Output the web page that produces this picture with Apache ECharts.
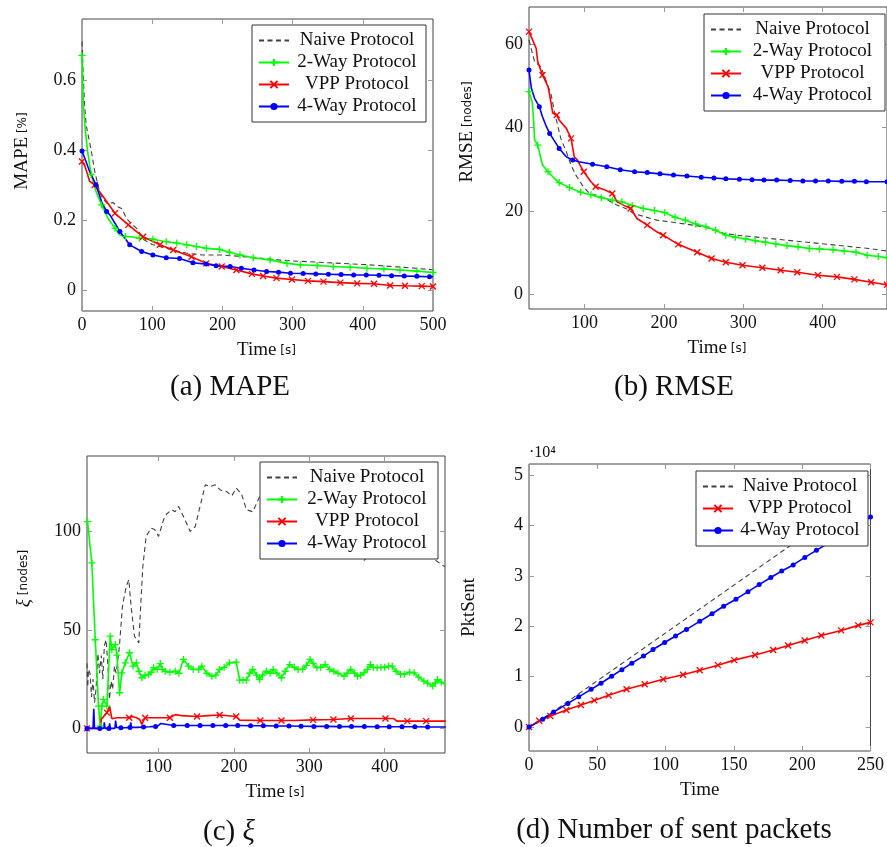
<!DOCTYPE html>
<html>
<head>
<meta charset="utf-8">
<script src="https://cdn.jsdelivr.net/npm/echarts@6/dist/echarts.min.js"></script>
<style>
  html, body { margin: 0; padding: 0; background: #fff; }
  #chart { width: 887px; height: 847px; }
</style>
</head>
<body>
<div id="chart"></div>
<script>
// ---------- data: (a) MAPE over time [t (s), MAPE] ----------
const A_naive = [[0,0.71],[1,0.66],[2,0.6],[4,0.52],[6,0.47],[9,0.44],[13,0.40],[18,0.34],[25,0.28],[30,0.26],[37,0.245],[44,0.25],[51,0.238],[57,0.232],[63,0.205],[70,0.19],[78,0.176],[87,0.145],[100,0.13],[120,0.119],[149,0.105],[171,0.1],[200,0.1],[250,0.092],[280,0.086],[300,0.083],[350,0.078],[400,0.073],[450,0.066],[500,0.058]];
const A_two = [[0,0.67],[1,0.6],[2,0.53],[4,0.47],[8,0.395],[13,0.33],[20,0.281],[28,0.243],[37,0.205],[47,0.176],[54,0.157],[62,0.153],[70,0.152],[82,0.148],[101,0.145],[120,0.138],[135,0.134],[149,0.129],[163,0.124],[177,0.119],[196,0.116],[210,0.108],[225,0.1],[244,0.092],[268,0.086],[292,0.076],[311,0.072],[335,0.07],[358,0.067],[382,0.065],[406,0.062],[430,0.06],[453,0.057],[477,0.054],[500,0.05]];
const A_vpp = [[0,0.367],[4,0.355],[11,0.31],[18,0.30],[30,0.267],[47,0.219],[66,0.186],[87,0.152],[111,0.129],[130,0.114],[156,0.095],[177,0.076],[199,0.067],[220,0.057],[242,0.046],[258,0.04],[277,0.034],[299,0.03],[322,0.026],[344,0.024],[368,0.021],[392,0.019],[416,0.018],[439,0.013],[460,0.012],[484,0.011],[500,0.01]];
const A_four = [[0,0.397],[4,0.376],[11,0.338],[20,0.30],[28,0.252],[35,0.224],[40,0.214],[54,0.167],[68,0.129],[85,0.11],[101,0.1],[120,0.092],[139,0.09],[158,0.078],[177,0.074],[191,0.069],[211,0.067],[227,0.062],[245,0.057],[263,0.053],[280,0.051],[297,0.048],[315,0.047],[333,0.046],[351,0.045],[369,0.044],[387,0.043],[405,0.043],[423,0.042],[441,0.041],[459,0.04],[477,0.039],[495,0.038],[500,0.038]];

// ---------- data: (b) RMSE over time [t (s), nodes] ----------
const B_naive = [[30,61],[31,60.6],[37,55.8],[45,54.6],[52,51],[58,47.8],[62,43.8],[66,40.6],[70,37.4],[77,34.2],[83,31],[89,28.6],[97,26.2],[106,24.2],[114,23.8],[124,23.2],[133,22.2],[141,21.4],[153,20.5],[162,19.4],[176,18.6],[191,17.8],[207,17.4],[226,16.9],[251,16.2],[276,14.6],[292,14.2],[334,13.4],[375,12.6],[417,11.8],[458,11.0],[481,10.4]];
const B_two = [[30,48.6],[34,46.2],[36,41.4],[37,37],[41,35.8],[43,34.2],[47,31],[54,29.4],[62,27.8],[68,26.8],[81,25.6],[95,24.5],[108,23.9],[121,23.2],[135,22.6],[147,22.2],[160,21.3],[174,20.6],[188,20.1],[201,19.6],[214,18.5],[227,17.8],[240,16.9],[253,16.2],[265,15.4],[278,14.2],[290,13.7],[303,13.3],[315,12.9],[328,12.5],[341,12.1],[355,11.7],[369,11.4],[383,11.0],[396,10.9],[413,10.7],[427,10.4],[442,10.1],[456,9.4],[470,9.1],[481,8.8]];
const B_vpp = [[30,63],[31,62.9],[39,59],[41,55.8],[47,52.6],[54,49.8],[56,47.8],[60,43.4],[65,43],[68,41.8],[77,39.8],[83,37.4],[87,33],[91,32.2],[99,29.4],[108,27],[114,25.8],[126,25],[135,24.2],[141,22.2],[149,21.4],[158,20.6],[166,18.2],[179,16.6],[191,15],[199,14.2],[218,12],[242,10.1],[260,8.6],[278,7.7],[299,7],[324,6.4],[347,5.8],[368,5.3],[394,4.6],[418,4.2],[440,3.6],[461,2.9],[481,2.3]];
const B_four = [[30,53.8],[33,49.4],[37,47],[43,45],[47,42.6],[52,40.2],[56,38.6],[62,36.8],[68,35],[77,33],[85,32.2],[93,31.8],[110,31.2],[128,30.6],[145,29.9],[163,29.4],[179,29.2],[195,28.9],[212,28.6],[229,28.4],[247,28.1],[263,27.9],[278,27.7],[295,27.6],[311,27.5],[326,27.4],[342,27.4],[359,27.3],[375,27.2],[391,27.2],[407,27.2],[424,27.1],[440,27.1],[455,27.0],[481,27.0]];

// ---------- data: (c) xi over time [t (s), nodes] ----------
const C_naive = [[5,33],[6,21],[7,30],[9,28],[11,16],[13,25],[15,13],[17,20],[19.5,38],[21.7,28],[24,37],[26,25],[28,42],[30.4,45],[32.7,32],[34.8,14.7],[37,24],[39,19.8],[41.5,31.6],[43.6,28],[46,35],[48,41.7],[52,62],[57,72],[60.5,75.5],[63.5,62],[68,46.8],[73.7,43.4],[76.7,65.4],[79,82],[83.5,97.5],[90,101.7],[94.7,101],[100,97.5],[106.6,106],[111,109],[117.6,111],[122,110],[126.5,112.7],[133,107.6],[142,100],[148.6,102.5],[155,112.7],[162,123.7],[168.6,122.8],[175,123.7],[182,121],[190,120.3],[197,118],[203,122],[210,119],[216.6,111],[225,110],[234,117.7],[250,121],[270,115],[290,118],[310,110],[330,104],[350,95],[372,85],[390,92],[410,100],[430,97],[450,92],[465,86],[480,82]];
const C_two = [[5.7,105],[11.4,84],[16,45],[20.3,11.3],[22.6,1.2],[24.8,11.3],[26.9,14.7],[31.4,11.3],[35.8,46.8],[38,40],[42.5,42.6],[44.7,37.2],[48.2,18.1],[51.3,28.2],[55.8,33.3],[61.5,38.4],[66,31.6],[70.4,33.3],[74,29],[77.8,25.7],[82,27],[86.7,27.4],[90,28.5],[93.4,30.8],[98,30],[102.2,32.9],[105,30],[108.8,29],[115,28.5],[122,29],[127,28],[133,35],[139.8,31.6],[146,30],[153,29.9],[157.4,31.6],[164,28],[170.7,26.5],[176,27],[181,29.9],[187,31],[194,33.3],[203,33.6],[207.6,24.5],[212,24.5],[216.4,24.5],[221,28],[225,29.9],[230,27],[234,24.8],[238,27],[243,29],[248,28],[252,29.9],[257,28],[263,25.7],[268,29],[274,32.4],[280,31],[285,29.9],[291,30],[296,32],[301,35],[305,33],[310,30.8],[315,31],[321,32.4],[327,30],[332.5,29],[338,28],[346,26.5],[350,28],[355,29.9],[360,28],[364,26.5],[368,27],[372.5,28.2],[377,30],[381,32.4],[385,31],[390,30.8],[395,31],[400,31],[405,31.5],[410,31.6],[415,29],[421,27.4],[426,27.5],[433,28.5],[439,28.2],[445,26],[452,24],[457,23],[463.5,21.5],[467,23],[470,24.8],[475,23.5],[481,22]];
const C_vpp = [[5,0],[22.6,0],[24,4.6],[31.4,8],[35,11.3],[38,4.9],[44.6,5.4],[61,5.4],[65,6],[70,5.5],[75,4.5],[77.8,2],[82,5.4],[100,5.4],[115,5.4],[122,7],[130,6.5],[151,6],[165,6.5],[181,6.8],[203,6],[207.6,4.2],[235,4],[263,4],[280,4],[305,4.3],[332,4.5],[355,5],[370,5],[401,5],[412,5],[416,3.7],[430,3.7],[455,3.7],[481,3.7]];
const C_four = [[5,0],[13,0],[14,10],[15,0],[22,0],[27,0],[28,3],[29,0],[34,0],[35,2.5],[36,0],[42,0],[43,4],[44,0.5],[50,0.3],[55,0.3],[62,0.5],[63,3],[64,0.5],[72,0.5],[80,0.7],[88,0.8],[96,1],[100,1.5],[103,2.5],[105,1.5],[120,1.5],[138,1.5],[155,1.5],[172,1.5],[189,1.5],[205,1.5],[222,1.3],[239,1.3],[256,1.2],[273,1.2],[289,1.1],[306,1],[323,1],[340,0.9],[356,0.9],[373,0.9],[390,0.8],[406,0.8],[423,0.8],[440,0.8],[457,0.7],[481,0.7]];

// ---------- data: (d) packets sent over time [t, packets] ----------
const D_naive = [[0,0],[10,1700],[20,3500],[30,5400],[40,7300],[250,47200]];
const D_vpp = [[0,0],[7.5,1250],[15.6,2200],[27.3,3400],[38,4400],[47.8,5300],[58.3,6300],[71.4,7500],[84.7,8500],[98.3,9500],[112.8,10400],[125,11300],[138.3,12300],[150.2,13300],[165.5,14300],[178.8,15300],[189.7,16200],[201.8,17200],[214,18200],[228.5,19200],[241,20200],[250,20800]];
const D_four = [[0,0],[10,1550],[18,3000],[28.5,4700],[36.4,6000],[45.5,7500],[52.7,8700],[60.5,10100],[68,11400],[75.3,12700],[83.8,14100],[90.8,15400],[99.3,16800],[107.3,18100],[115.3,19400],[125,21000],[134,22500],[142.5,24000],[151.5,25400],[160.3,26900],[168.5,28300],[177,29700],[185,31000],[193.4,32200],[201.9,33700],[210.4,35100],[218.9,36500],[227,37900],[235,39200],[243,40500],[250,41700]];

// ---------- tick values ----------
const A_xticks = [0, 100, 200, 300, 400, 500];
const A_yticks = [0, 0.2, 0.4, 0.6];
const B_xticks = [100, 200, 300, 400];
const B_yticks = [0, 20, 40, 60];
const C_xticks = [100, 200, 300, 400];
const C_yticks = [0, 50, 100];
const D_xticks = [0, 50, 100, 150, 200, 250];
const D_yticks = [0, 10000, 20000, 30000, 40000, 50000];

const NAIVE = 'Naive Protocol', TWO = '2-Way Protocol', VPP = 'VPP Protocol', FOUR = '4-Way Protocol';

const SERIF = '"Liberation Serif", "DejaVu Serif", serif';
const SANS = '"DejaVu Sans", sans-serif';
const INK = '#111';

const looks = {
  [NAIVE]: { color: '#404040', symbol: 'none', lineStyle: { width: 1.1, type: [5, 3.5] } },
  [TWO]: { color: '#00ff00', symbol: 'path://M5,0L5,10M0,5L10,5', symbolSize: 7 },
  [VPP]: { color: '#ff0000', symbol: 'path://M0,0L10,10M10,0L0,10', symbolSize: 6 },
  [FOUR]: { color: '#0000ff', symbol: 'circle', symbolSize: 5 }
};

// marks are drawn on a point only when it lies at least `gap` seconds after the previous mark
function markedIndices(data, gap) {
  const keep = new Set();
  let last = -Infinity;
  data.forEach((p, i) => {
    if (p[0] - last >= gap) { keep.add(i); last = p[0]; }
  });
  return keep;
}

function line(name, data, g, gap) {
  const lk = looks[name];
  const keep = markedIndices(data, gap || 0);
  const size = lk.symbolSize || 0;
  return {
    type: 'line', name, data,
    xAxisIndex: 2 * g, yAxisIndex: 2 * g,
    symbol: lk.symbol,
    symbolSize: (v, p) => (keep.has(p.dataIndex) ? size : 0),
    showSymbol: lk.symbol !== 'none',
    lineStyle: Object.assign({ color: lk.color, width: 1.6 }, lk.lineStyle || {}),
    itemStyle: { color: lk.color, borderColor: lk.color, borderWidth: lk.symbol === 'circle' ? 0 : 1.3 },
    emphasis: { disabled: true },
    animation: false
  };
}

const nameRich = {
  m: { fontFamily: SERIF, fontSize: 19, color: INK },
  i: { fontFamily: SERIF, fontStyle: 'italic', fontSize: 19, color: INK },
  u: { fontFamily: SANS, fontSize: 12, color: INK }
};

function axes(g, xr, yr, xticks, yticks, xname, yname, yfmt, xPad, yPad, yGap) {
  const tick = (vals) => ({ inside: true, length: 5, lineStyle: { color: '#999', width: 1 }, customValues: vals });
  const noLine = { show: false, onZero: false };
  const xs = [
    {
      type: 'value', gridIndex: g, position: 'bottom', min: xr[0], max: xr[1],
      axisLine: noLine, splitLine: { show: false }, axisTick: tick(xticks),
      axisLabel: { customValues: xticks, margin: 5, color: INK, fontFamily: SERIF, fontSize: 18, showMinLabel: true, showMaxLabel: true },
      name: xname, nameLocation: 'middle', nameGap: 30,
      nameTextStyle: { rich: nameRich, padding: [0, 0, 0, xPad] }
    },
    {
      type: 'value', gridIndex: g, position: 'top', min: xr[0], max: xr[1],
      axisLine: noLine, splitLine: { show: false }, axisTick: tick(xticks),
      axisLabel: { show: false }
    }
  ];
  const ys = [
    {
      type: 'value', gridIndex: g, position: 'left', min: yr[0], max: yr[1],
      axisLine: noLine, splitLine: { show: false }, axisTick: tick(yticks),
      axisLabel: { customValues: yticks, margin: 6, color: INK, fontFamily: SERIF, fontSize: 18, formatter: yfmt, showMinLabel: true, showMaxLabel: true },
      name: yname, nameLocation: 'middle', nameGap: yGap,
      nameTextStyle: { rich: nameRich, padding: [0, 0, 0, yPad] }
    },
    {
      type: 'value', gridIndex: g, position: 'right', min: yr[0], max: yr[1],
      axisLine: noLine, splitLine: { show: false }, axisTick: tick(yticks),
      axisLabel: { show: false }
    }
  ];
  return { xs, ys };
}

function legend(names, left, top, tw) {
  return {
    orient: 'vertical', left, top,
    // the dashed entry carries no mark
    data: names.map((n) => (n === NAIVE ? { name: n, itemStyle: { opacity: 0 } } : n)),
    itemWidth: 30, itemHeight: 9, itemGap: 3,
    padding: [6, 6, 6, 6],
    backgroundColor: '#fff', borderColor: '#333', borderWidth: 1, borderRadius: 0,
    selectedMode: false,
    formatter: (n) => '{c|' + n + '}',
    textStyle: {
      fontFamily: SERIF, fontSize: 19, color: INK,
      rich: { c: { width: tw, align: 'center', fontFamily: SERIF, fontSize: 19, lineHeight: 20, color: INK } }
    }
  };
}

const num = (v) => (v === 0 ? '0' : String(Math.round(v * 10) / 10));

const pa = axes(0, [0, 500], [-0.06, 0.774], A_xticks, A_yticks, '{m|Time}{u| [s]}', '{m|MAPE}{u| [%]}', (v) => (v === 0 ? '0' : v.toFixed(1)), 18, 28, 50);
const pb = axes(1, [30, 481], [-3.5, 68.9], B_xticks, B_yticks, '{m|Time}{u| [s]}', '{m|RMSE}{u| [nodes]}', num, 18, 52, 52);
const pc = axes(2, [5, 480], [-12.5, 138.3], C_xticks, C_yticks, '{m|Time}{u| [s]}', '{i|ξ}{u| [nodes]}', num, 18, 52, 54);
const pd = axes(3, [0, 250], [-4750, 52250], D_xticks, D_yticks, '{m|Time}', '{m|PktSent}', (v) => String(v / 10000), 0, 0, 50);

const gridBox = { show: true, borderColor: '#444', borderWidth: 1, backgroundColor: 'transparent' };

const option = {
  animation: false,
  backgroundColor: '#fff',
  grid: [
    Object.assign({ left: 82, top: 19, width: 351, height: 292 }, gridBox),
    Object.assign({ left: 529, top: 7, width: 362, height: 302 }, gridBox),
    Object.assign({ left: 87, top: 456, width: 358, height: 297 }, gridBox),
    Object.assign({ left: 529, top: 464, width: 344, height: 287 }, gridBox)
  ],
  xAxis: [].concat(pa.xs, pb.xs, pc.xs, pd.xs),
  yAxis: [].concat(pa.ys, pb.ys, pc.ys, pd.ys),
  legend: [
    legend([NAIVE, TWO, VPP, FOUR], 252, 25, 126),
    legend([NAIVE, TWO, VPP, FOUR], 704, 14, 133),
    legend([NAIVE, TWO, VPP, FOUR], 260, 462, 130),
    legend([NAIVE, VPP, FOUR], 696, 471, 124)
  ],
  series: [
    line(NAIVE, A_naive, 0), line(TWO, A_two, 0, 12), line(VPP, A_vpp, 0, 15), line(FOUR, A_four, 0, 12),
    line(NAIVE, B_naive, 1), line(TWO, B_two, 1, 10), line(VPP, B_vpp, 1, 15), line(FOUR, B_four, 1, 12),
    line(NAIVE, C_naive, 2), line(TWO, C_two, 2, 0), line(VPP, C_vpp, 2, 20), line(FOUR, C_four, 2, 12),
    line(NAIVE, D_naive, 3), line(VPP, D_vpp, 3, 0), line(FOUR, D_four, 3, 0)
  ],
  graphic: [
    { type: 'text', x: 230, y: 387, style: { text: '(a) MAPE', font: '29px ' + SERIF, fill: INK, align: 'center', verticalAlign: 'middle' } },
    { type: 'text', x: 674, y: 387, style: { text: '(b) RMSE', font: '29px ' + SERIF, fill: INK, align: 'center', verticalAlign: 'middle' } },
    { type: 'text', x: 229, y: 832, style: { text: '(c) {i|ξ}', font: '29px ' + SERIF, fill: INK, align: 'center', verticalAlign: 'middle',
      rich: { i: { fontFamily: SERIF, fontStyle: 'italic', fontSize: 29, fill: INK } } } },
    { type: 'text', x: 674, y: 830, style: { text: '(d) Number of sent packets', font: '29px ' + SERIF, fill: INK, align: 'center', verticalAlign: 'middle' } },
    { type: 'text', x: 529, y: 453, style: { text: '·10⁴', font: '16px ' + SERIF, fill: INK, align: 'left', verticalAlign: 'middle' } }
  ]
};

const chart = echarts.init(document.getElementById('chart'), null, { renderer: 'canvas' });
chart.setOption(option);
</script>
</body>
</html>
